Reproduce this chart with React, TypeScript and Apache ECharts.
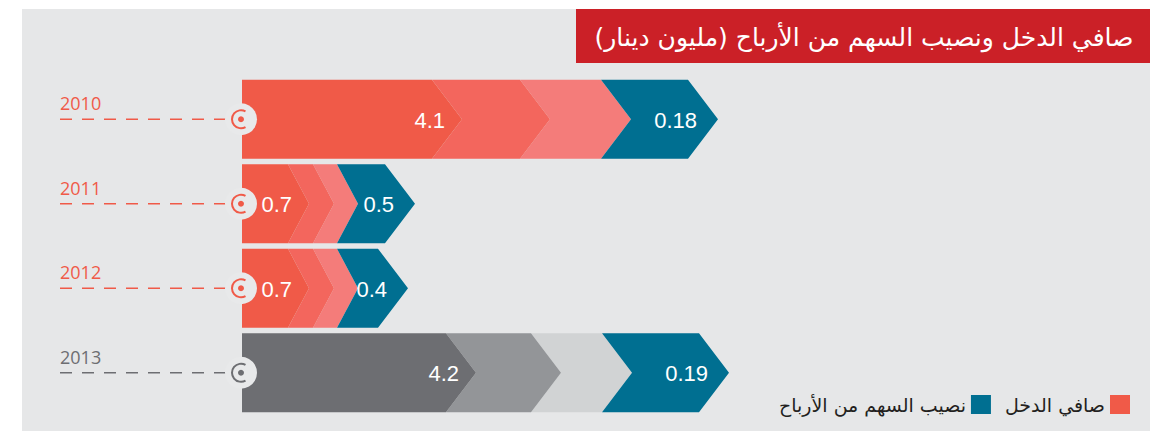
import React, { useEffect, useRef } from 'react';
import * as echarts from 'echarts';

const years = ['2010', '2011', '2012', '2013'];
const netIncome = [4.1, 0.7, 0.7, 4.2];
const dividendShare = [0.18, 0.5, 0.4, 0.19];
// Drawn widths (axis units) of the three income chevrons and the dividend chevron.
// The source infographic is not drawn to scale, so these are read off the picture.
const incomeChevrons = [
  [190, 88, 81],
  [46, 25, 24],
  [46, 25, 24],
  [204, 85, 71],
];
const dividendChevron = [87, 48, 41, 97];

const SERIES_INCOME = 'صافي الدخل';
const SERIES_DIV = 'نصيب السهم من الأرباح';
const TITLE = 'صافي الدخل ونصيب السهم من الأرباح (مليون دينار)';

const redShades = ['#f05a48', '#f3665d', '#f47c7a'];
const grayShades = ['#6d6e72', '#939598', '#d1d3d4'];
const blue = '#006f91';
const bg = '#e6e7e8';
const yearColors = ['#f05a48', '#f05a48', '#f05a48', '#6d6e72'];

const DEPTH = 30;
const SMALL_DEPTH = 21;
const BAR_RATIO = 0.935;

function chevron(
  x0: number,
  x1: number,
  top: number,
  bot: number,
  cy: number,
  notch: boolean,
  d: number,
  nd: number
) {
  const pts: number[][] = [
    [x0, top],
    [x1, top],
    [x1 + d, cy],
    [x1, bot],
    [x0, bot],
  ];
  if (notch) pts.push([x0 + nd, cy]);
  return pts;
}

export default function App() {
  const ref = useRef<HTMLDivElement>(null);

  useEffect(() => {
    if (!ref.current) return;
    const chart = echarts.init(ref.current, null, { renderer: 'svg' });

    const incomeData = years.map((_, i) => [i, 0, ...incomeChevrons[i], netIncome[i]]);
    const divData = years.map((_, i) => [
      i,
      incomeChevrons[i].reduce((a, b) => a + b, 0),
      dividendChevron[i],
      dividendShare[i],
    ]);

    const option: any = {
      animation: false,
      backgroundColor: '#ffffff',
      grid: { left: 242, right: 22, top: 77, bottom: 16 },
      xAxis: {
        type: 'value',
        min: 0,
        max: 900,
        show: false,
      },
      yAxis: {
        type: 'category',
        inverse: true,
        data: years,
        axisLine: { show: false },
        axisTick: { show: false },
        splitLine: { show: false },
        axisLabel: {
          margin: 182,
          align: 'left',
          verticalAlign: 'bottom',
          padding: [0, 0, 7, 0],
          fontSize: 18,
          fontFamily: 'Open Sans',
          color: (_v: any, idx: number) => yearColors[idx],
        },
      },
      legend: {
        right: 29,
        top: 390,
        itemWidth: 20,
        itemHeight: 19,
        itemGap: 14,
        align: 'right',
        icon: 'rect',
        data: [SERIES_DIV, SERIES_INCOME],
        textStyle: { fontSize: 19, color: '#231f20', fontFamily: 'DejaVu Sans' },
      },
      graphic: [
        {
          type: 'rect',
          z: -10,
          shape: { x: 22, y: 9, width: 1128, height: 422 },
          style: { fill: bg },
        },
        {
          type: 'rect',
          z: 10,
          shape: { x: 576, y: 9, width: 574, height: 54 },
          style: { fill: '#cb2027' },
        },
        {
          type: 'text',
          z: 11,
          x: 864,
          y: 37,
          style: {
            text: TITLE,
            fill: '#ffffff',
            fontSize: 25,
            fontFamily: 'DejaVu Sans',
            align: 'center',
            verticalAlign: 'middle',
          },
        },
      ],
      series: [
        {
          name: SERIES_INCOME,
          type: 'custom',
          clip: false,
          z: 3,
          itemStyle: { color: redShades[0] },
          encode: { y: 0, x: 1 },
          data: incomeData,
          renderItem: (params: any, api: any) => {
            const yi = api.value(0);
            const widths = [api.value(2), api.value(3), api.value(4)];
            const val = api.value(5);
            const base = api.coord([0, yi]);
            const h = api.size([0, 1])[1] * BAR_RATIO;
            const cy = base[1];
            const top = cy - h / 2;
            const bot = cy + h / 2;
            const shades = yi === 3 ? grayShades : redShades;
            const total = widths[0] + widths[1] + widths[2];
            const d = total < 150 ? SMALL_DEPTH : DEPTH;
            const children: any[] = [];
            let start = 0;
            let firstTip = 0;
            const polys: any[] = [];
            widths.forEach((w: number, k: number) => {
              const x0 = api.coord([start, yi])[0];
              const x1 = api.coord([start + w, yi])[0];
              if (k === 0) firstTip = x1 + d;
              polys.push({
                type: 'polygon',
                shape: { points: chevron(x0, x1, top, bot, cy, k > 0, d, d) },
                style: { fill: shades[k] },
              });
              start += w;
            });
            for (let k = polys.length - 1; k >= 0; k--) children.push(polys[k]);
            const mColor = yearColors[yi];
            const cx = base[0] - 1;
            children.push({
              type: 'line',
              shape: { x1: 60, y1: cy, x2: cx - 9, y2: cy },
              style: { stroke: mColor, lineWidth: 1.5, lineDash: [12, 10] },
            });
            children.push({
              type: 'circle',
              shape: { cx, cy, r: 16 },
              style: { fill: '#e8e9ea' },
            });
            children.push({
              type: 'arc',
              shape: { cx, cy, r: 9, startAngle: Math.PI / 3, endAngle: (5 * Math.PI) / 3, clockwise: true },
              style: { stroke: mColor, lineWidth: 2, fill: 'none' },
            });
            children.push({
              type: 'circle',
              shape: { cx, cy, r: 3 },
              style: { fill: mColor },
            });
            children.push({
              type: 'text',
              style: {
                text: String(val),
                x: firstTip - 17,
                y: cy + 1,
                fill: '#ffffff',
                fontSize: 22,
                fontFamily: 'Liberation Sans',
                align: 'right',
                verticalAlign: 'middle',
              },
            });
            return { type: 'group', children };
          },
        },
        {
          name: SERIES_DIV,
          type: 'custom',
          clip: false,
          z: 4,
          itemStyle: { color: blue },
          encode: { y: 0, x: 1 },
          data: divData,
          renderItem: (params: any, api: any) => {
            const yi = api.value(0);
            const s = api.value(1);
            const w = api.value(2);
            const val = api.value(3);
            const p0 = api.coord([s, yi]);
            const x1 = api.coord([s + w, yi])[0];
            const h = api.size([0, 1])[1] * BAR_RATIO;
            const cy = p0[1];
            const nd = s < 150 ? SMALL_DEPTH : DEPTH;
            return {
              type: 'group',
              children: [
                {
                  type: 'polygon',
                  shape: { points: chevron(p0[0], x1, cy - h / 2, cy + h / 2, cy, true, DEPTH, nd) },
                  style: { fill: blue },
                },
                {
                  type: 'text',
                  style: {
                    text: String(val),
                    x: x1 + 9,
                    y: cy + 1,
                    fill: '#ffffff',
                    fontSize: 22,
                    fontFamily: 'Liberation Sans',
                    align: 'right',
                    verticalAlign: 'middle',
                  },
                },
              ],
            };
          },
        },
      ],
    };

    chart.setOption(option);
    return () => chart.dispose();
  }, []);

  return (
    <div
      ref={ref}
      style={{ position: 'absolute', left: 0, top: 0, width: 1164, height: 431 }}
    />
  );
}
